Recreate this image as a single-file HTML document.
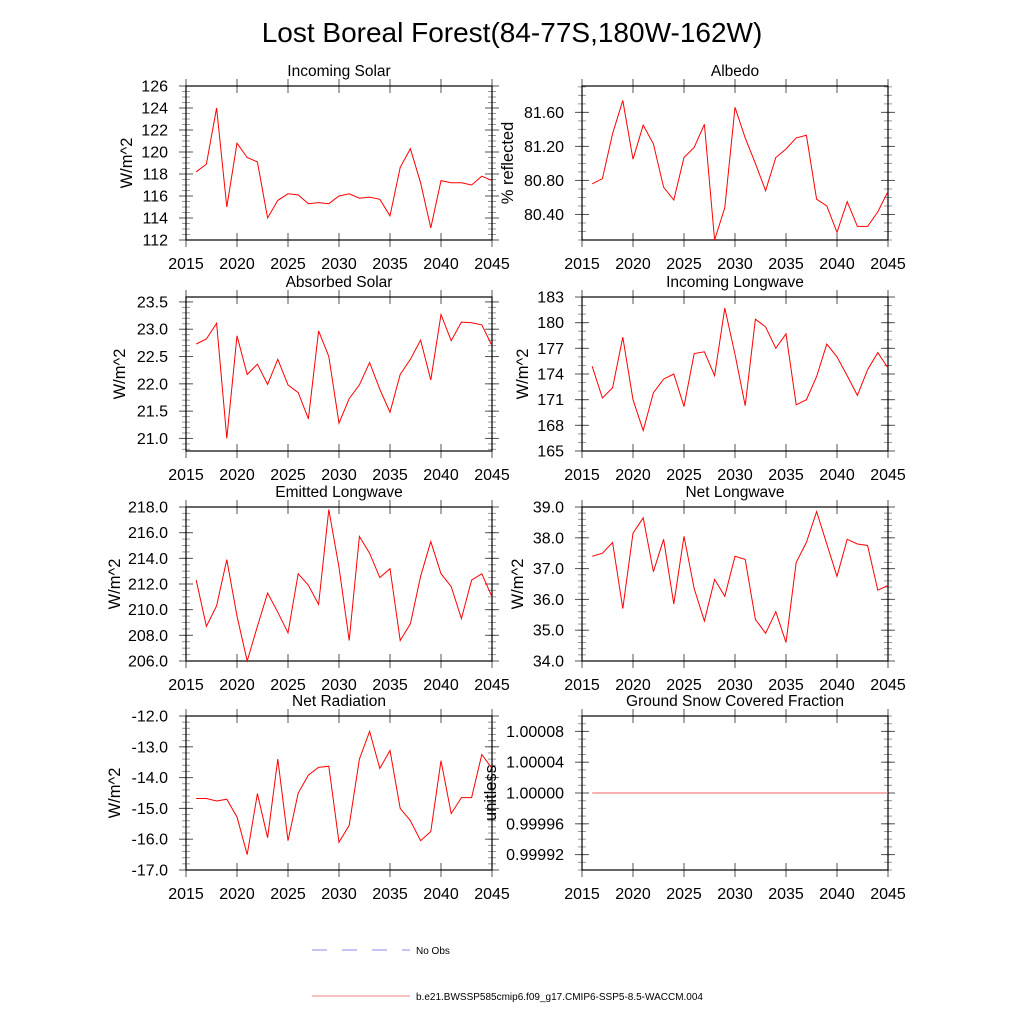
<!DOCTYPE html>
<html><head><meta charset="utf-8"><style>
html,body{margin:0;padding:0;background:#fff;}
svg{display:block;font-family:"Liberation Sans",sans-serif;}
</style></head><body>
<svg id="fig" width="1024" height="1024" viewBox="0 0 1024 1024">
<text x="512" y="42" font-size="28" text-anchor="middle">Lost Boreal Forest(84-77S,180W-162W)</text>
<g>
<line x1="312" y1="950" x2="410" y2="950" stroke="#8888ee" stroke-width="1" stroke-dasharray="15,15"/>
<text x="416" y="954" font-size="10">No Obs</text>
<line x1="312" y1="996" x2="410" y2="996" stroke="#f08080" stroke-width="1"/>
<text x="416" y="1000" font-size="10">b.e21.BWSSP585cmip6.f09_g17.CMIP6-SSP5-8.5-WACCM.004</text>
</g>
</svg>
<script>
const years=[2016,2017,2018,2019,2020,2021,2022,2023,2024,2025,2026,2027,2028,2029,2030,2031,2032,2033,2034,2035,2036,2037,2038,2039,2040,2041,2042,2043,2044,2045];
const xTicks=[2015,2020,2025,2030,2035,2040,2045];
const incomingSolar=[118.2,118.9,124.0,115.0,120.8,119.5,119.1,114.0,115.6,116.2,116.1,115.3,115.4,115.3,116.0,116.2,115.8,115.9,115.7,114.2,118.6,120.3,117.2,113.1,117.4,117.2,117.2,117.0,117.8,117.4];
const albedo=[80.76,80.82,81.35,81.74,81.05,81.45,81.23,80.72,80.57,81.07,81.19,81.46,80.10,80.48,81.66,81.30,81.00,80.68,81.07,81.17,81.30,81.33,80.58,80.50,80.19,80.55,80.26,80.26,80.43,80.67];
const absorbedSolar=[22.73,22.82,23.11,21.0,22.88,22.17,22.36,21.99,22.45,21.98,21.84,21.36,22.97,22.50,21.28,21.73,21.98,22.39,21.90,21.48,22.17,22.45,22.80,22.07,23.27,22.79,23.13,23.12,23.08,22.70];
const incomingLW=[174.9,171.2,172.4,178.3,171.0,167.4,171.8,173.4,174.0,170.2,176.4,176.6,173.8,181.7,176.3,170.3,180.4,179.5,177.0,178.7,170.4,171.0,173.7,177.5,176.0,173.8,171.5,174.5,176.5,174.7];
const emittedLW=[212.3,208.7,210.3,213.9,209.5,206.0,208.7,211.3,209.8,208.2,212.8,211.9,210.4,217.8,213.3,207.6,215.7,214.4,212.5,213.2,207.6,208.9,212.6,215.3,212.8,211.8,209.3,212.3,212.8,211.0];
const netLW=[37.4,37.5,37.85,35.7,38.15,38.65,36.9,37.95,35.85,38.05,36.35,35.3,36.65,36.1,37.4,37.3,35.35,34.9,35.6,34.6,37.2,37.85,38.85,37.8,36.75,37.95,37.8,37.75,36.3,36.45];
const netRad=[-14.68,-14.68,-14.76,-14.70,-15.28,-16.50,-14.52,-15.95,-13.40,-16.05,-14.50,-13.92,-13.67,-13.63,-16.10,-15.55,-13.40,-12.50,-13.70,-13.12,-15.00,-15.40,-16.05,-15.75,-13.45,-15.17,-14.65,-14.65,-13.25,-13.70];
const snowFrac=[1,1,1,1,1,1,1,1,1,1,1,1,1,1,1,1,1,1,1,1,1,1,1,1,1,1,1,1,1,1];

const panels=[
 {name:'incoming-solar',title:'Incoming Solar',data:incomingSolar,x:186,y:86,ymin:112,ymax:126,major:2,minor:0.5,dec:0,yl:'W/m^2',ylx:127,color:'#ff0000'},
 {name:'albedo',title:'Albedo',data:albedo,x:582,y:86,ymin:80.10,ymax:81.91,major:0.4,minor:0.1,dec:2,yl:'% reflected',ylx:508,color:'#ff0000',t0:80.4},
 {name:'absorbed-solar',title:'Absorbed Solar',data:absorbedSolar,x:186,y:297,ymin:20.77,ymax:23.59,major:0.5,minor:0.1,dec:1,yl:'W/m^2',ylx:120,color:'#ff0000',t0:21.0},
 {name:'incoming-longwave',title:'Incoming Longwave',data:incomingLW,x:582,y:297,ymin:165,ymax:183,major:3,minor:1,dec:0,yl:'W/m^2',ylx:523,color:'#ff0000'},
 {name:'emitted-longwave',title:'Emitted Longwave',data:emittedLW,x:186,y:507,ymin:206,ymax:218,major:2,minor:0.5,dec:1,yl:'W/m^2',ylx:115,color:'#ff0000'},
 {name:'net-longwave',title:'Net Longwave',data:netLW,x:582,y:507,ymin:34,ymax:39,major:1,minor:0.2,dec:1,yl:'W/m^2',ylx:518,color:'#ff0000'},
 {name:'net-radiation',title:'Net Radiation',data:netRad,x:186,y:716,ymin:-17,ymax:-12,major:1,minor:0.2,dec:1,yl:'W/m^2',ylx:115,color:'#ff0000'},
 {name:'ground-snow-fraction',title:'Ground Snow Covered Fraction',data:snowFrac,x:582,y:716,ymin:0.9999,ymax:1.0001,major:0.00004,minor:0.00001,dec:5,yl:'unitless',ylx:491,color:'#f06060',t0:0.99992}
];
const W=306,H=154,NS='http://www.w3.org/2000/svg';
const svg=document.getElementById('fig');
function mk(tag,attrs,parent){const e=document.createElementNS(NS,tag);for(const k in attrs)e.setAttribute(k,attrs[k]);parent.appendChild(e);return e;}
panels.forEach(p=>{
 const g=mk('g',{},svg);
 
 
 const sx=v=>p.x+(v-2015)/30*W;
 const sy=v=>p.y+H-(v-p.ymin)/(p.ymax-p.ymin)*H;
 const ax=mk('g',{stroke:'#555','stroke-width':1},g);
 
 
 const m0=Math.ceil(p.ymin/p.minor-1e-6);
 for(let k=m0;k*p.minor<=p.ymax+1e-9;k++){const v=k*p.minor,y=sy(v);
  mk('line',{x1:p.x-4,x2:p.x+4,y1:y,y2:y,stroke:'#999'},ax);mk('line',{x1:p.x+W-4,x2:p.x+W+4,y1:y,y2:y,stroke:'#999'},ax);}
 const t0=(p.t0!==undefined)?p.t0:Math.ceil(p.ymin/p.major-1e-6)*p.major;
 for(let k=0;t0+k*p.major<=p.ymax+1e-9;k++){const v=t0+k*p.major,y=sy(v);
  mk('line',{x1:p.x-7,x2:p.x+7,y1:y,y2:y},ax);mk('line',{x1:p.x+W-7,x2:p.x+W+7,y1:y,y2:y},ax);
  const t=mk('text',{x:p.x-18,y:y+5.5,'font-size':16,'text-anchor':'end',stroke:'none'},g);
  
  
  t.textContent=v.toFixed(p.dec);}
 xTicks.forEach(yr=>{const x=sx(yr);
  mk('line',{x1:x,x2:x,y1:p.y+H-7,y2:p.y+H+7},ax);mk('line',{x1:x,x2:x,y1:p.y-7,y2:p.y+7},ax);
  const t=mk('text',{x:x,y:p.y+H+29,'font-size':16,'text-anchor':'middle'},g);
  
  
  t.textContent=yr;});
 const fr=mk('rect',{x:p.x,y:p.y,width:W,height:H,fill:'none',stroke:'#000','stroke-width':1.2},g);
 
 
 const pts=p.data.map((v,i)=>sx(years[i]).toFixed(1)+','+sy(v).toFixed(1)).join(' ');
 const pl=mk('polyline',{points:pts,fill:'none',stroke:p.color,'stroke-width':1},g);
 
 
 const tt=mk('text',{x:p.x+W/2,y:p.y-10,'font-size':15.5,'text-anchor':'middle'},g);
 
 
 tt.textContent=p.title;
 const cy=p.y+H/2;
 const yl=mk('text',{x:p.ylx,y:cy,'font-size':16.5,'text-anchor':'middle',transform:'rotate(-90 '+p.ylx+' '+cy+')','dominant-baseline':'central'},g);
 
 
 yl.textContent=p.yl;
});
</script>
</body></html>
